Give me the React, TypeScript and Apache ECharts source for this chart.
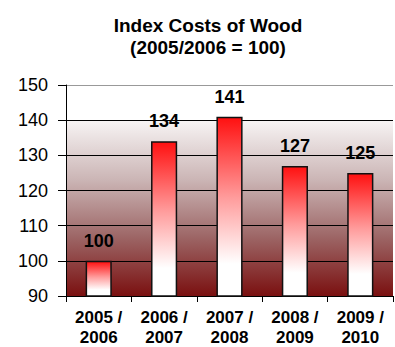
import React, { useEffect, useRef } from "react";
import * as echarts from "echarts";

const titleLines = ["Index Costs of Wood", "(2005/2006 = 100)"];
const categories = ["2005 /\n2006", "2006 /\n2007", "2007 /\n2008", "2008 /\n2009", "2009 /\n2010"];
const values = [100, 134, 141, 127, 125];
const yMin = 90;
const yMax = 150;
const yInterval = 10;

const FONT = "'Liberation Sans', Arial, sans-serif";

export default function App() {
  const ref = useRef<HTMLDivElement>(null);
  useEffect(() => {
    if (!ref.current) return;
    const chart = echarts.init(ref.current, undefined, { renderer: "svg" });
    chart.setOption({
      animation: false,
      title: {
        text: titleLines.join("\n"),
        left: 203,
        textAlign: "center",
        top: 9,
        textStyle: {
          fontFamily: FONT,
          fontWeight: "bold",
          fontSize: 19,
          lineHeight: 22,
          color: "#000",
        },
      },
      grid: {
        left: 66,
        right: 2,
        top: 85,
        bottom: 50,
        show: true,
        borderWidth: 0,
        backgroundColor: new echarts.graphic.LinearGradient(0, 0, 0, 1, [
          { offset: 0, color: "#ffffff" },
          { offset: 0.166, color: "#ffffff" },
          { offset: 0.168, color: "#f7f4f4" },
          { offset: 0.45, color: "#cbb5b5" },
          { offset: 0.72, color: "#9d6666" },
          { offset: 1, color: "#7a1010" },
        ]),
      },
      xAxis: {
        type: "category",
        data: categories,
        axisLine: { lineStyle: { color: "#000", width: 1 } },
        axisTick: { show: true, length: 6, lineStyle: { color: "#000" } },
        axisLabel: {
          fontFamily: FONT,
          fontWeight: "bold",
          fontSize: 17,
          lineHeight: 20,
          color: "#000",
          margin: 11,
        },
      },
      yAxis: {
        type: "value",
        min: yMin,
        max: yMax,
        interval: yInterval,
        axisLine: { show: true, lineStyle: { color: "#000" } },
        axisTick: { show: true, length: 8, lineStyle: { color: "#000" } },
        axisLabel: {
          fontFamily: FONT,
          fontSize: 18,
          color: "#000",
          margin: 18,
        },
        splitLine: {
          show: true,
          lineStyle: {
            color: ["#000", "#000", "#000", "#000", "#000", "#000", "#999"],
            width: 1,
          },
        },
      },
      series: [
        {
          type: "bar",
          data: values,
          barWidth: "40%",
          itemStyle: {
            color: new echarts.graphic.LinearGradient(0, 0, 0, 1, [
              { offset: 0, color: "#ff1010" },
              { offset: 0.45, color: "#ff9c9c" },
              { offset: 0.82, color: "#ffffff" },
              { offset: 1, color: "#ffffff" },
            ]),
            borderColor: "#111",
            borderWidth: 1.5,
          },
          label: {
            show: true,
            position: "top",
            distance: 11,
            fontFamily: FONT,
            fontWeight: "bold",
            fontSize: 18,
            color: "#000",
          },
        },
      ],
    });
    return () => chart.dispose();
  }, []);
  return <div ref={ref} style={{ width: 395, height: 347, position: "absolute", left: 0, top: 0 }} />;
}
